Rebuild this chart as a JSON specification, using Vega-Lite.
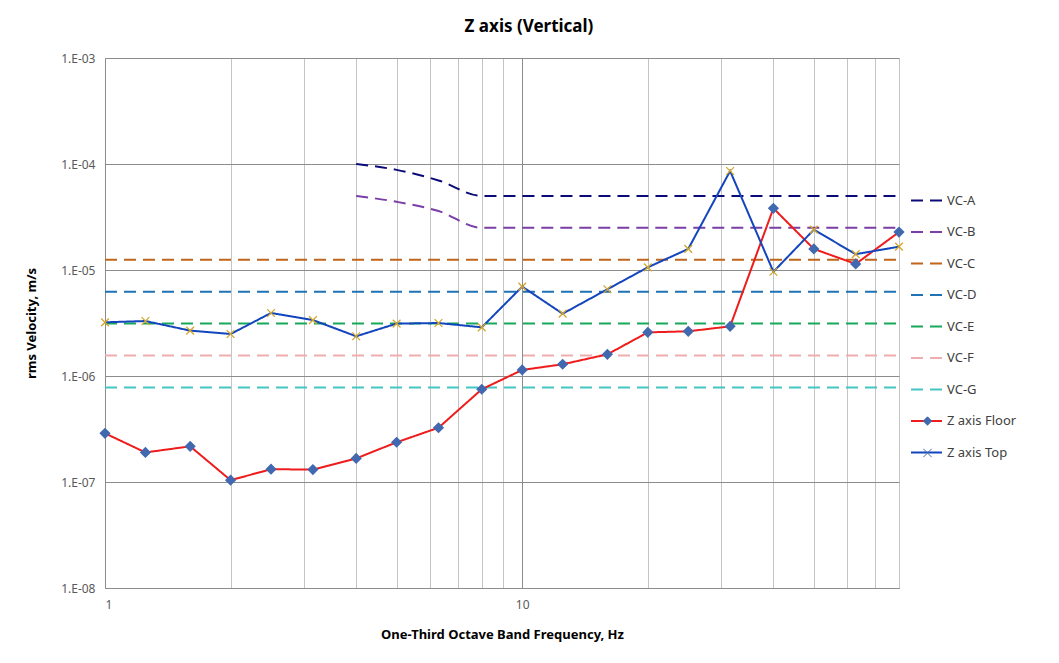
{
  "$schema": "https://vega.github.io/schema/vega-lite/v6.json",
  "description": "Z axis vertical rms velocity vs VC criteria",
  "autosize": {"type": "none"},
  "padding": {"left": 105, "top": 58, "right": 160, "bottom": 75},
  "width": 794,
  "height": 530,
  "background": "white",
  "config": {
    "font": "Noto Sans",
    "view": {"stroke": null},
    "axis": {"labelColor": "#595959", "labelFontSize": 12, "titleFontSize": 13, "titleFontWeight": "bold", "titleColor": "#000000"},
    "legend": {
      "symbolStrokeWidth": 2,
      "labelFontSize": 13,
      "labelColor": "#404040",
      "labelOffset": 4,
      "rowPadding": 7.5
    }
  },
  "title": {
    "text": "Z axis (Vertical)",
    "fontSize": 17,
    "fontWeight": "bold",
    "color": "#000000",
    "anchor": "middle",
    "dx": 27,
    "offset": 16
  },
  "datasets": {
    "vc": [
      {"f": 4, "series": "VC-A", "v": 0.0001},
      {"f": 5, "series": "VC-A", "v": 0.000088},
      {"f": 6.3, "series": "VC-A", "v": 0.00007},
      {"f": 8, "series": "VC-A", "v": 0.00005},
      {"f": 10, "series": "VC-A", "v": 0.00005},
      {"f": 80, "series": "VC-A", "v": 0.00005},
      {"f": 4, "series": "VC-B", "v": 0.00005},
      {"f": 5, "series": "VC-B", "v": 0.000044},
      {"f": 6.3, "series": "VC-B", "v": 0.000036},
      {"f": 8, "series": "VC-B", "v": 0.000025},
      {"f": 10, "series": "VC-B", "v": 0.000025},
      {"f": 80, "series": "VC-B", "v": 0.000025},
      {"f": 1, "series": "VC-C", "v": 0.0000125},
      {"f": 80, "series": "VC-C", "v": 0.0000125},
      {"f": 1, "series": "VC-D", "v": 0.00000625},
      {"f": 80, "series": "VC-D", "v": 0.00000625},
      {"f": 1, "series": "VC-E", "v": 0.00000312},
      {"f": 80, "series": "VC-E", "v": 0.00000312},
      {"f": 1, "series": "VC-F", "v": 0.00000156},
      {"f": 80, "series": "VC-F", "v": 0.00000156},
      {"f": 1, "series": "VC-G", "v": 0.00000078},
      {"f": 80, "series": "VC-G", "v": 0.00000078}
    ],
    "meas": [
      {"f": 1, "series": "Z axis Floor", "v": 2.88e-7},
      {"f": 1.25, "series": "Z axis Floor", "v": 1.9e-7},
      {"f": 1.6, "series": "Z axis Floor", "v": 2.17e-7},
      {"f": 2, "series": "Z axis Floor", "v": 1.04e-7},
      {"f": 2.5, "series": "Z axis Floor", "v": 1.32e-7},
      {"f": 3.15, "series": "Z axis Floor", "v": 1.31e-7},
      {"f": 4, "series": "Z axis Floor", "v": 1.67e-7},
      {"f": 5, "series": "Z axis Floor", "v": 2.37e-7},
      {"f": 6.3, "series": "Z axis Floor", "v": 3.25e-7},
      {"f": 8, "series": "Z axis Floor", "v": 7.5e-7},
      {"f": 10, "series": "Z axis Floor", "v": 1.14e-6},
      {"f": 12.5, "series": "Z axis Floor", "v": 1.29e-6},
      {"f": 16, "series": "Z axis Floor", "v": 1.6e-6},
      {"f": 20, "series": "Z axis Floor", "v": 2.58e-6},
      {"f": 25, "series": "Z axis Floor", "v": 2.64e-6},
      {"f": 31.5, "series": "Z axis Floor", "v": 2.94e-6},
      {"f": 40, "series": "Z axis Floor", "v": 3.82e-5},
      {"f": 50, "series": "Z axis Floor", "v": 1.58e-5},
      {"f": 63, "series": "Z axis Floor", "v": 1.14e-5},
      {"f": 80, "series": "Z axis Floor", "v": 2.28e-5},
      {"f": 1, "series": "Z axis Top", "v": 3.21e-6},
      {"f": 1.25, "series": "Z axis Top", "v": 3.3e-6},
      {"f": 1.6, "series": "Z axis Top", "v": 2.68e-6},
      {"f": 2, "series": "Z axis Top", "v": 2.49e-6},
      {"f": 2.5, "series": "Z axis Top", "v": 3.93e-6},
      {"f": 3.15, "series": "Z axis Top", "v": 3.37e-6},
      {"f": 4, "series": "Z axis Top", "v": 2.37e-6},
      {"f": 5, "series": "Z axis Top", "v": 3.12e-6},
      {"f": 6.3, "series": "Z axis Top", "v": 3.16e-6},
      {"f": 8, "series": "Z axis Top", "v": 2.88e-6},
      {"f": 10, "series": "Z axis Top", "v": 6.97e-6},
      {"f": 12.5, "series": "Z axis Top", "v": 3.87e-6},
      {"f": 16, "series": "Z axis Top", "v": 6.58e-6},
      {"f": 20, "series": "Z axis Top", "v": 1.06e-5},
      {"f": 25, "series": "Z axis Top", "v": 1.58e-5},
      {"f": 31.5, "series": "Z axis Top", "v": 8.59e-5},
      {"f": 40, "series": "Z axis Top", "v": 9.63e-6},
      {"f": 50, "series": "Z axis Top", "v": 2.4e-5},
      {"f": 63, "series": "Z axis Top", "v": 1.41e-5},
      {"f": 80, "series": "Z axis Top", "v": 1.66e-5}
    ]
  },
  "encoding": {
    "x": {
      "field": "f",
      "type": "quantitative",
      "title": "One-Third Octave Band Frequency, Hz",
      "scale": {"type": "log", "domain": [1, 80], "nice": false},
      "axis": {
        "values": [1, 2, 3, 4, 5, 6, 7, 8, 9, 10, 20, 30, 40, 50, 60, 70, 80],
        "labelExpr": "datum.value == 1 || datum.value == 10 ? datum.value + '' : ''",
        "grid": true,
        "gridColor": {"condition": {"test": "datum.value == 10", "value": "#8c8c8c"}, "value": "#c4c4c4"},
        "gridWidth": 1,
        "ticks": false,
        "domainColor": "#8c8c8c",
        "labelPadding": 11,
        "titlePadding": 18
      }
    },
    "y": {
      "field": "v",
      "type": "quantitative",
      "title": "rms Velocity, m/s",
      "scale": {"type": "log", "domain": [1e-8, 0.001], "nice": false},
      "axis": {
        "values": [1e-8, 1e-7, 1e-6, 1e-5, 1e-4, 0.001],
        "labelExpr": "'1.E-0' + round(-log(datum.value) / LN10)",
        "grid": true,
        "gridColor": "#8c8c8c",
        "ticks": false,
        "domainColor": "#8c8c8c",
        "labelPadding": 10,
        "titlePadding": 22
      }
    }
  },
  "layer": [
    {
      "data": {"name": "vc"},
      "mark": {"type": "line", "strokeWidth": 2, "interpolate": "monotone"},
      "encoding": {
        "color": {
          "field": "series",
          "type": "nominal",
          "scale": {
            "domain": ["VC-A", "VC-B", "VC-C", "VC-D", "VC-E", "VC-F", "VC-G", "Z axis Floor", "Z axis Top"],
            "range": ["#0a0a78", "#7a3ea6", "#c0651c", "#1f72b4", "#17a85c", "#f0adb0", "#43c6c4", "#ee1c1c", "#1345bd"]
          },
          "legend": {"title": null, "orient": "none", "legendX": 805, "legendY": 126, "symbolSize": 961}
        },
        "strokeDash": {
          "field": "series",
          "type": "nominal",
          "scale": {
            "domain": ["VC-A", "VC-B", "VC-C", "VC-D", "VC-E", "VC-F", "VC-G", "Z axis Floor", "Z axis Top"],
            "range": [[12, 7], [12, 7], [12, 7], [12, 7], [12, 7], [12, 7], [12, 7], [1, 0], [1, 0]]
          },
          "legend": {"title": null, "orient": "none", "legendX": 805, "legendY": 126, "symbolSize": 961}
        }
      }
    },
    {
      "data": {"name": "meas"},
      "mark": {"type": "line", "strokeWidth": 2},
      "encoding": {
        "color": {"field": "series", "type": "nominal"},
        "strokeDash": {"field": "series", "type": "nominal"}
      }
    },
    {
      "data": {"name": "meas"},
      "transform": [{"filter": "datum.series == 'Z axis Floor'"}],
      "mark": {"type": "point", "filled": true, "fill": "#4169b0", "stroke": "#4169b0", "size": 70, "opacity": 1},
      "encoding": {
        "shape": {
          "field": "series",
          "type": "nominal",
          "scale": {"domain": ["Z axis Floor", "Z axis Top"], "range": ["diamond", "M-1,-1L1,1M-1,1L1,-1"]},
          "legend": {"title": null, "orient": "none", "legendX": 816, "legendY": 356.5, "symbolSize": 70, "labelExpr": "''", "rowPadding": 18, "symbolStrokeWidth": 1}
        }
      }
    },
    {
      "data": {"name": "meas"},
      "transform": [{"filter": "datum.series == 'Z axis Top'"}],
      "mark": {"type": "point", "filled": false, "stroke": "#d4a62a", "strokeWidth": 1.3, "size": 60, "opacity": 1},
      "encoding": {
        "shape": {"field": "series", "type": "nominal"}
      }
    }
  ]
}
